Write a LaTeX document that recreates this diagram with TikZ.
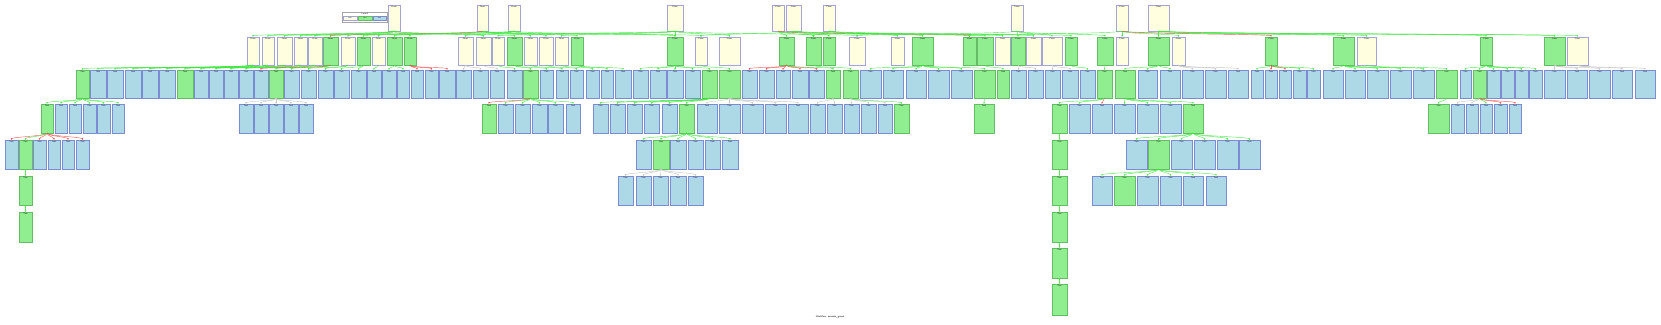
\documentclass[tikz,border=0pt]{standalone}
\usetikzlibrary{arrows.meta}
\definecolor{creamF}{HTML}{FFFFE0}
\definecolor{creamD}{HTML}{A4A4D8}
\definecolor{greenF}{HTML}{90EE90}
\definecolor{greenD}{HTML}{66BB66}
\definecolor{blueF}{HTML}{ADD8E6}
\definecolor{blueD}{HTML}{7D8CD2}
\definecolor{edgeG}{HTML}{3CE83C}
\definecolor{edgeR}{HTML}{F04848}
\definecolor{edgeY}{HTML}{C8C8C8}
\tikzset{
 bx/.style={draw, line width=0.6pt, inner sep=0pt, outer sep=0pt, anchor=north west},
 cb/.style={bx, fill=creamF, draw=creamD},
 gb/.style={bx, fill=greenF, draw=greenD},
 bb/.style={bx, fill=blueF, draw=blueD},
 hdr/.style={anchor=north, inner sep=0pt, yshift=-1pt, font=\sffamily\fontsize{2}{2.4}\selectfont},
 edg/.style={-{Stealth[length=2pt,width=1.6pt]}, line width=0.45pt, out=-90, in=90, distance=3pt},
 eg/.style={edg, draw=edgeG, opacity=.85},
 er/.style={edg, draw=edgeR, opacity=.85},
 ey/.style={edg, draw=edgeY},
}
\newcommand\boxrow[5]{\foreach \a/\b/\ty in {#4}{\pgfmathsetmacro\w{\b-\a}\node[\ty, minimum width=\w pt, minimum height=#3pt] (r#1x\a) at (\a,#2) {}; \node[hdr] (h#1x\a) at (r#1x\a.north) {#5};}}
\newcommand\kids[5]{\foreach \c in {#4}{\draw[#5] (r#1x#3.south) to (r#2x\c.north);}}
\begin{document}
\begin{tikzpicture}[x=1pt,y=-1pt]
\fill[white] (0,0) rectangle (1661,324);
\useasboundingbox (0,0) rectangle (1661,324);
% legend
\node[draw=gray!70, line width=0.5pt, fill=white, anchor=north west, minimum width=45pt, minimum height=10pt, inner sep=0pt] (leg) at (342,12) {};
\node[hdr] (legt) at (leg.north) {Legend};
\node[cb, line width=0.4pt, minimum width=14pt, minimum height=4pt, font=\sffamily\fontsize{1.5}{1.8}\selectfont] (lg1) at (343,16) {Phase};
\node[gb, line width=0.4pt, minimum width=14pt, minimum height=4pt, font=\sffamily\fontsize{1.5}{1.8}\selectfont] (lg2) at (358,16) {Done};
\node[bb, line width=0.4pt, minimum width=13pt, minimum height=4pt, font=\sffamily\fontsize{1.5}{1.8}\selectfont] (lg3) at (373,16) {Task};
% rows
\boxrow{0}{5}{26}{388/400/cb,477/488/cb,508/520/cb,667/683/cb,772/784/cb,786/801/cb,823/835/cb,1011/1023/cb,1116/1128/cb,1148/1169/cb}{Phase}
\boxrow{1}{37}{28}{247/259/cb,262/274/cb,277/292/cb,294/307/cb,308/322/cb,323/338/gb,341/355/cb,357/370/gb,372/385/cb,387/402/gb,404/416/gb,458/473/cb,476/491/cb,492/504/cb,507/522/gb,524/537/cb,539/553/cb,555/568/cb,571/583/gb,667/683/gb,695/707/cb,719/740/cb,779/794/gb,806/821/gb,823/835/gb,849/865/cb,891/904/cb,912/933/gb,963/976/gb,977/993/gb,995/1010/cb,1011/1025/gb,1026/1041/cb,1042/1062/cb,1065/1077/gb,1097/1113/gb,1116/1128/cb,1148/1169/gb,1172/1185/cb,1265/1277/gb,1333/1354/gb,1357/1376/cb,1480/1492/gb,1544/1565/gb,1567/1588/cb}{Phase}
\boxrow{2}{70}{28}{76/89/gb,90/106/bb,107/123/bb,125/141/bb,142/158/bb,159/175/bb,177/193/gb,194/208/bb,209/223/bb,224/238/bb,239/253/bb,254/268/bb,269/283/gb,284/299/bb,301/316/bb,318/333/bb,334/349/bb,351/366/bb,367/381/bb,382/396/bb,397/409/bb,411/423/bb,425/438/bb,439/455/bb,456/471/bb,473/488/bb,490/504/bb,507/522/bb,523/538/gb,540/553/bb,556/568/bb,570/583/bb,586/599/bb,601/613/bb,615/631/bb,633/648/bb,650/666/bb,667/683/bb,685/700/bb,702/717/gb,719/740/gb,742/757/bb,759/774/bb,776/790/bb,792/808/bb,809/824/bb,826/840/gb,843/858/gb,860/881/bb,883/903/bb,906/926/bb,928/949/bb,951/972/bb,974/995/gb,997/1009/gb,1011/1026/bb,1028/1043/bb,1045/1060/bb,1062/1078/bb,1080/1095/bb,1097/1112/gb,1115/1135/gb,1138/1157/bb,1160/1180/bb,1182/1203/bb,1205/1226/bb,1228/1248/bb,1251/1263/bb,1265/1277/bb,1279/1291/bb,1293/1306/bb,1307/1320/bb,1323/1343/bb,1345/1365/bb,1367/1388/bb,1390/1411/bb,1413/1434/bb,1436/1457/gb,1460/1471/bb,1473/1486/gb,1487/1500/bb,1501/1514/bb,1515/1528/bb,1529/1542/bb,1544/1565/bb,1567/1587/bb,1589/1610/bb,1612/1632/bb,1635/1655/bb}{Task}
\boxrow{3}{104}{29}{41/53/gb,55/67/bb,69/81/bb,83/96/bb,97/110/bb,112/124/bb,239/253/bb,254/268/bb,269/283/bb,284/298/bb,299/313/bb,482/496/gb,498/513/bb,515/530/bb,532/547/bb,548/563/bb,566/580/bb,593/608/bb,610/625/bb,627/642/bb,644/659/bb,662/677/bb,679/694/gb,697/717/bb,719/740/bb,742/763/bb,765/786/bb,788/808/bb,810/825/bb,827/842/bb,844/859/bb,861/876/bb,878/892/bb,894/909/gb,974/994/gb,1052/1067/gb,1069/1090/bb,1092/1112/bb,1114/1135/bb,1137/1158/bb,1160/1181/bb,1183/1203/gb,1428/1449/gb,1451/1464/bb,1466/1478/bb,1480/1492/bb,1494/1507/bb,1509/1521/bb}{Task}
\boxrow{4}{140}{29}{5/18/bb,19/32/gb,33/46/bb,48/60/bb,62/74/bb,76/89/bb,636/651/bb,653/669/gb,670/686/bb,688/703/bb,705/720/bb,722/738/bb,1052/1067/gb,1126/1147/bb,1148/1169/gb,1171/1192/bb,1194/1215/bb,1217/1238/bb,1239/1260/bb}{Task}
\boxrow{5}{176}{29}{19/32/gb,618/633/bb,636/651/bb,653/668/bb,670/686/bb,688/703/bb,1052/1067/gb,1092/1112/bb,1114/1135/gb,1137/1158/bb,1160/1181/bb,1183/1203/bb,1206/1226/bb}{Task}
\boxrow{6}{212}{30}{19/32/gb,1052/1067/gb}{Task}
\boxrow{7}{248}{30}{1052/1067/gb}{Task}
\boxrow{8}{284}{31}{1052/1067/gb}{Task}
% row0 -> row1
\kids{0}{1}{388}{247,277,308,341,372,404,476,507}{eg}
\kids{0}{1}{477}{387,524,571,667}{eg}
\kids{0}{1}{477}{323}{er}
\kids{0}{1}{508}{357,262,458,539,695}{eg}
\kids{0}{1}{667}{294,555,667,492,719,849}{eg}
\kids{0}{1}{772}{779,891,806}{eg}
\kids{0}{1}{772}{963}{er}
\kids{0}{1}{786}{823,695,995,1026}{eg}
\kids{0}{1}{823}{912,806,977,1065}{eg}
\kids{0}{1}{1011}{1011,1042,849,1097}{eg}
\kids{0}{1}{1116}{1116,1172,963,1333}{eg}
\kids{0}{1}{1116}{1265}{er}
\kids{0}{1}{1148}{1148,1357,1480,1544,1567}{eg}
% row1 -> row2
\kids{1}{2}{247}{76,90,107}{eg}
\kids{1}{2}{262}{125,142}{eg}
\kids{1}{2}{277}{159,177}{eg}
\kids{1}{2}{294}{194,209}{eg}
\kids{1}{2}{308}{224,239}{eg}
\kids{1}{2}{323}{269,284}{eg}
\kids{1}{2}{323}{254}{er}
\kids{1}{2}{341}{301,318}{eg}
\kids{1}{2}{357}{334,351}{eg}
\kids{1}{2}{372}{367}{eg}
\kids{1}{2}{387}{382,397}{eg}
\kids{1}{2}{404}{411,425,439}{er}
\kids{1}{2}{458}{456,473}{ey}
\kids{1}{2}{476}{490}{ey}
\kids{1}{2}{492}{507}{eg}
\kids{1}{2}{507}{523,540}{eg}
\kids{1}{2}{524}{556}{eg}
\kids{1}{2}{539}{570}{eg}
\kids{1}{2}{555}{586}{eg}
\kids{1}{2}{571}{601,615}{eg}
\kids{1}{2}{667}{633,650,667,685,702}{eg}
\kids{1}{2}{695}{719}{eg}
\kids{1}{2}{779}{742,759,776,792,809}{er}
\kids{1}{2}{779}{826}{eg}
\kids{1}{2}{806}{843}{eg}
\kids{1}{2}{912}{860,883,906,928,951,974}{eg}
\kids{1}{2}{977}{997}{eg}
\kids{1}{2}{1011}{1011,1028}{ey}
\kids{1}{2}{1042}{1045,1062}{ey}
\kids{1}{2}{1065}{1080}{eg}
\kids{1}{2}{1097}{1097}{eg}
\kids{1}{2}{1148}{1115,1138,1160}{eg}
\kids{1}{2}{1172}{1182,1205,1228}{ey}
\kids{1}{2}{1265}{1251,1293,1307}{eg}
\kids{1}{2}{1265}{1265,1279}{er}
\kids{1}{2}{1333}{1323,1345,1367,1390,1413}{eg}
\kids{1}{2}{1357}{1436}{eg}
\kids{1}{2}{1480}{1460,1473,1487,1501,1515,1529}{eg}
\kids{1}{2}{1544}{1544,1567,1589}{ey}
\kids{1}{2}{1567}{1612,1635}{ey}
% row2 -> row3
\kids{2}{3}{76}{41,55,69,83,97,112}{eg}
\kids{2}{3}{269}{239,254,269,284,299}{ey}
\kids{2}{3}{523}{498,515,532,548,566}{eg}
\kids{2}{3}{523}{482}{er}
\kids{2}{3}{702}{593,610,627,644,662,679}{eg}
\kids{2}{3}{719}{697,719,742,765,788}{ey}
\kids{2}{3}{826}{810,827}{ey}
\kids{2}{3}{843}{844,861,878}{ey}
\kids{2}{3}{843}{894}{eg}
\kids{2}{3}{974}{974}{eg}
\kids{2}{3}{1097}{1052,1069}{eg}
\kids{2}{3}{1097}{1092}{er}
\kids{2}{3}{1115}{1114,1137,1160,1183}{eg}
\kids{2}{3}{1436}{1428}{eg}
\kids{2}{3}{1473}{1451,1466}{ey}
\kids{2}{3}{1473}{1480}{eg}
\kids{2}{3}{1473}{1494,1509}{er}
% row3 -> row4
\kids{3}{4}{41}{5,33,48,62,76}{er}
\kids{3}{4}{41}{19}{eg}
\kids{3}{4}{679}{636,653,670,688,705,722}{eg}
\kids{3}{4}{1052}{1052}{eg}
\kids{3}{4}{1183}{1126,1148,1171,1194,1217,1239}{eg}
% row4 -> row5
\kids{4}{5}{19}{19}{eg}
\kids{4}{5}{653}{618,636,653,670,688}{ey}
\kids{4}{5}{1052}{1052}{eg}
\kids{4}{5}{1148}{1092,1114,1137,1160,1183,1206}{eg}
% deeper
\kids{5}{6}{19}{19}{eg}
\kids{5}{6}{1052}{1052}{eg}
\kids{6}{7}{1052}{1052}{eg}
\kids{7}{8}{1052}{1052}{eg}
% caption
\node[font=\sffamily\fontsize{2.5}{3}\selectfont, inner sep=0pt] (cap) at (830,317) {Workflow: process\_graph};
\end{tikzpicture}
\end{document}
